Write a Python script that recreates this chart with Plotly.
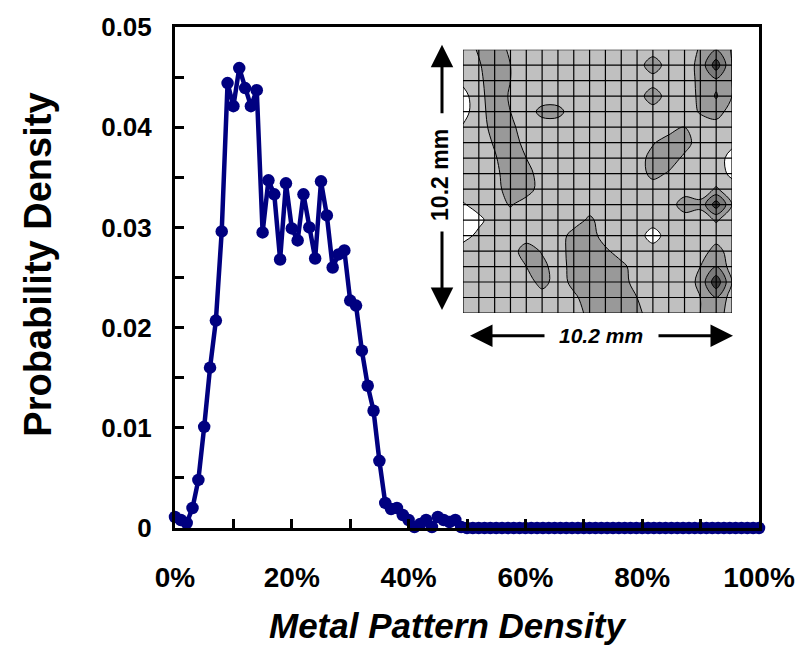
import plotly.graph_objects as go

# ---------------- data ----------------
metal_density_pct = list(range(0, 101))
prob_density = [
    0.0011, 0.0008, 0.0005, 0.0020, 0.0048, 0.0101, 0.0160, 0.0207, 0.0296, 0.0444,
    0.0421, 0.0459, 0.0439, 0.0421, 0.0437, 0.0295, 0.0347, 0.0333, 0.0268, 0.0344,
    0.0299, 0.0287, 0.0333, 0.0300, 0.0269, 0.0346, 0.0312, 0.0260, 0.0273, 0.0277,
    0.0227, 0.0222, 0.0177, 0.0142, 0.0117, 0.0067, 0.0025, 0.0019, 0.0020, 0.0013,
    0.0008, 0.0001, 0.0004, 0.0008, 0.0001, 0.0011, 0.0008, 0.0006, 0.0008, 0.0001,
] + [0.0] * 51

x_tick_vals = [0, 20, 40, 60, 80, 100]
x_tick_text = ["0%", "20%", "40%", "60%", "80%", "100%"]
y_tick_vals = [0, 0.01, 0.02, 0.03, 0.04, 0.05]
y_tick_text = ["0", "0.01", "0.02", "0.03", "0.04", "0.05"]

# inset: local pattern density map, 17 x 17 cells (nodes at cell corners)
map_rows = [
    [0.30, 0.42, 0.52, 0.36, 0.30, 0.30, 0.30, 0.30, 0.30, 0.30, 0.30, 0.30, 0.30, 0.30, 0.30, 0.42, 0.60, 0.38],
    [0.30, 0.38, 0.52, 0.40, 0.30, 0.30, 0.30, 0.30, 0.30, 0.30, 0.30, 0.30, 0.52, 0.30, 0.30, 0.46, 0.92, 0.40],
    [0.25, 0.36, 0.50, 0.40, 0.30, 0.30, 0.30, 0.30, 0.30, 0.30, 0.30, 0.30, 0.30, 0.30, 0.30, 0.45, 0.55, 0.40],
    [0.12, 0.34, 0.50, 0.38, 0.30, 0.30, 0.30, 0.30, 0.30, 0.30, 0.30, 0.30, 0.52, 0.30, 0.30, 0.44, 0.62, 0.40],
    [0.12, 0.32, 0.50, 0.40, 0.30, 0.46, 0.46, 0.30, 0.30, 0.30, 0.30, 0.30, 0.30, 0.30, 0.30, 0.42, 0.50, 0.30],
    [0.22, 0.30, 0.48, 0.45, 0.30, 0.30, 0.30, 0.30, 0.30, 0.30, 0.30, 0.30, 0.30, 0.30, 0.40, 0.30, 0.30, 0.28],
    [0.28, 0.30, 0.42, 0.52, 0.32, 0.30, 0.30, 0.30, 0.30, 0.30, 0.30, 0.30, 0.38, 0.50, 0.48, 0.30, 0.30, 0.25],
    [0.30, 0.30, 0.38, 0.52, 0.40, 0.30, 0.30, 0.30, 0.30, 0.30, 0.30, 0.30, 0.48, 0.50, 0.36, 0.30, 0.30, 0.12],
    [0.30, 0.30, 0.34, 0.52, 0.48, 0.30, 0.30, 0.30, 0.30, 0.30, 0.30, 0.30, 0.46, 0.38, 0.30, 0.30, 0.30, 0.15],
    [0.30, 0.30, 0.32, 0.50, 0.50, 0.30, 0.30, 0.30, 0.30, 0.30, 0.30, 0.30, 0.30, 0.30, 0.30, 0.30, 0.42, 0.30],
    [0.18, 0.28, 0.30, 0.42, 0.30, 0.30, 0.30, 0.30, 0.30, 0.30, 0.30, 0.30, 0.30, 0.30, 0.50, 0.45, 0.92, 0.40],
    [0.05, 0.15, 0.30, 0.30, 0.30, 0.30, 0.30, 0.30, 0.44, 0.30, 0.30, 0.30, 0.30, 0.30, 0.30, 0.30, 0.42, 0.30],
    [0.12, 0.25, 0.30, 0.30, 0.30, 0.30, 0.30, 0.48, 0.50, 0.30, 0.30, 0.30, 0.10, 0.30, 0.30, 0.30, 0.30, 0.30],
    [0.30, 0.30, 0.30, 0.30, 0.50, 0.38, 0.30, 0.50, 0.50, 0.44, 0.30, 0.30, 0.30, 0.30, 0.30, 0.30, 0.48, 0.30],
    [0.30, 0.30, 0.30, 0.30, 0.40, 0.46, 0.30, 0.48, 0.50, 0.50, 0.46, 0.30, 0.30, 0.30, 0.30, 0.40, 0.60, 0.30],
    [0.30, 0.30, 0.30, 0.30, 0.30, 0.48, 0.30, 0.46, 0.50, 0.52, 0.50, 0.30, 0.22, 0.30, 0.30, 0.45, 0.95, 0.40],
    [0.30, 0.30, 0.30, 0.30, 0.30, 0.30, 0.30, 0.36, 0.50, 0.52, 0.50, 0.40, 0.30, 0.30, 0.30, 0.40, 0.60, 0.30],
    [0.30, 0.30, 0.30, 0.30, 0.30, 0.30, 0.30, 0.30, 0.46, 0.50, 0.50, 0.45, 0.30, 0.30, 0.30, 0.40, 0.50, 0.30],
]
n_cells = 17
inset_label = "10.2 mm"

# ---------------- figure ----------------
NAVY = "#000080"
FONT = "Liberation Sans, Arial, sans-serif"

fig = go.Figure()

fig.add_trace(go.Scatter(
    x=metal_density_pct, y=prob_density, mode="lines+markers",
    line=dict(color=NAVY, width=4.5), marker=dict(color=NAVY, size=12.5),
    showlegend=False, cliponaxis=False, hoverinfo="skip",
))

nodes = list(range(n_cells + 1))
fig.add_trace(go.Contour(
    z=map_rows, x=nodes, y=nodes, xaxis="x2", yaxis="y2",
    contours=dict(start=0.2, end=0.8, size=0.2, coloring="fill"),
    colorscale=[[0, "#ffffff"], [0.25, "#c0c0c0"], [0.5, "#999999"],
                [0.75, "#7a7a7a"], [1, "#3c3c3c"]],
    line=dict(color="black", width=1), showscale=False, hoverinfo="skip",
))

# grid of the inset map
gx, gy = [], []
for k in nodes:
    gx += [k, k, None, 0, n_cells, None]
    gy += [0, n_cells, None, k, k, None]
fig.add_trace(go.Scatter(
    x=gx, y=gy, xaxis="x2", yaxis="y2", mode="lines",
    line=dict(color="black", width=1.2), showlegend=False, hoverinfo="skip",
))

# pixel -> paper helpers (plot area 175..759 x 20..528)
L, R, T, B = 175, 759, 20, 528
def px(xp):
    return (xp - L) / (R - L)
def py(yp):
    return (B - yp) / (B - T)

fig.update_layout(
    width=807, height=652, margin=dict(l=L, r=807 - R, t=T, b=652 - B),
    paper_bgcolor="white", plot_bgcolor="white",
    xaxis=dict(range=[0, 100], tickvals=x_tick_vals, ticktext=x_tick_text,
               ticks="inside", ticklen=9, tickwidth=3, tickcolor="black",
               minor=dict(dtick=10, ticks="inside", ticklen=9, tickwidth=3, tickcolor="black"),
               showline=True, linecolor="black", linewidth=3, mirror=True,
               showgrid=False, zeroline=False, ticklabelstandoff=22,
               tickfont=dict(family=FONT, size=28, color="black", weight="bold")),
    yaxis=dict(range=[0, 0.05], tickvals=y_tick_vals, ticktext=y_tick_text,
               ticks="inside", ticklen=9, tickwidth=3, tickcolor="black",
               minor=dict(dtick=0.005, ticks="inside", ticklen=9, tickwidth=3, tickcolor="black"),
               showline=True, linecolor="black", linewidth=3, mirror=True,
               showgrid=False, zeroline=False, ticklabelstandoff=15,
               tickfont=dict(family=FONT, size=26, color="black", weight="bold")),
    xaxis2=dict(domain=[px(463), px(732)], range=[0, n_cells], anchor="y2",
                showticklabels=False, ticks="", showgrid=False, zeroline=False, showline=False),
    yaxis2=dict(domain=[py(310), py(43)], range=[n_cells, 0], anchor="x2",
                showticklabels=False, ticks="", showgrid=False, zeroline=False, showline=False),
)

annotations = [
    dict(text="Probability Density", x=px(38), y=py(261), xref="paper", yref="paper",
         textangle=-90, showarrow=False, xanchor="center", yanchor="middle",
         font=dict(family=FONT, size=38, color="black", weight="bold")),
    dict(text="<i>Metal Pattern Density</i>", x=px(447), y=py(627), xref="paper", yref="paper",
         showarrow=False, xanchor="center", yanchor="middle",
         font=dict(family=FONT, size=35, color="black", weight="bold")),
    # vertical dimension arrow
    dict(text="", x=px(442), y=py(38), xref="paper", yref="paper", showarrow=True,
         ax=0, ay=70, arrowhead=2, arrowsize=1.5, arrowwidth=3, arrowcolor="black"),
    dict(text="", x=px(442), y=py(307), xref="paper", yref="paper", showarrow=True,
         ax=0, ay=-80, arrowhead=2, arrowsize=1.5, arrowwidth=3, arrowcolor="black"),
    dict(text=inset_label, x=px(440), y=py(170), xref="paper", yref="paper", textangle=-90,
         showarrow=False, xanchor="center", yanchor="middle",
         font=dict(family=FONT, size=23, color="black", weight="bold")),
    # horizontal dimension arrow
    dict(text="", x=px(470), y=py(333), xref="paper", yref="paper", showarrow=True,
         ax=76, ay=0, arrowhead=2, arrowsize=1.5, arrowwidth=3, arrowcolor="black"),
    dict(text="", x=px(733), y=py(333), xref="paper", yref="paper", showarrow=True,
         ax=-76, ay=0, arrowhead=2, arrowsize=1.5, arrowwidth=3, arrowcolor="black"),
    dict(text="<i>" + inset_label + "</i>", x=px(601), y=py(333), xref="paper", yref="paper",
         showarrow=False, xanchor="center", yanchor="middle",
         font=dict(family=FONT, size=21, color="black", weight="bold")),
]
fig.update_layout(annotations=annotations)

fig.write_html("out.html")
